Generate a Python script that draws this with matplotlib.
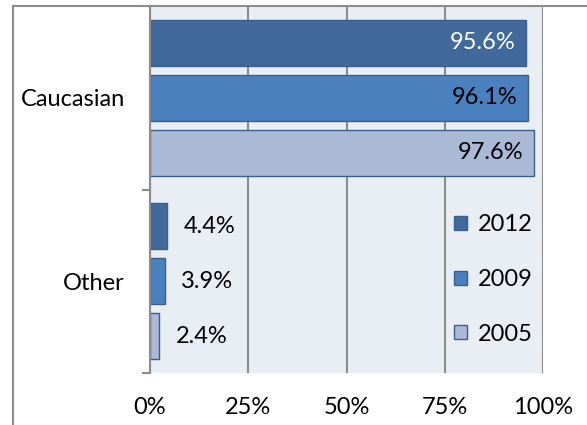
import numpy as np
import matplotlib.pyplot as plt
from matplotlib.lines import Line2D

plt.rcParams['font.family'] = ['Lato', 'DejaVu Sans']

categories = ['Caucasian', 'Other']
years = ['2012', '2009', '2005']
v2012 = [95.6, 4.4]
v2009 = [96.1, 3.9]
v2005 = [97.6, 2.4]
xticks = [0, 25, 50, 75, 100]
xticklabels = ['0%', '25%', '50%', '75%', '100%']

colors = ['#41699B', '#4B80BE', '#AAB9D6']
edge = '#3A5F8C'
fs = 17

fig = plt.figure(figsize=(5.87, 4.25), dpi=100)
ax = fig.add_axes([150/587, 52/425, 393/587, 367/425])
ax.set_facecolor('#E9EDF4')

y = np.arange(len(categories))
series = [v2012, v2009, v2005]
offsets = [-0.3, 0.0, 0.3]
for vals, off, c, lab in zip(series, offsets, colors, years):
    ax.barh(y + off, vals, height=0.25, color=c, edgecolor=edge,
            linewidth=1, label=lab, zorder=2)
    for yy, v in zip(y + off, vals):
        if v > 50:
            ax.annotate(f'{v:.1f}%', (v, yy), xytext=(-10, 0),
                        textcoords='offset pixels', ha='right', va='center',
                        fontsize=fs, color='white' if lab == '2012' else 'black')
        else:
            ax.annotate(f'{v:.1f}%', (v, yy), xytext=(16, 0),
                        textcoords='offset pixels', ha='left', va='center',
                        fontsize=fs, color='black')

ax.set_xlim(0, 100)
ax.set_ylim(1.5, -0.5)
ax.set_xticks(xticks)
ax.set_xticklabels(xticklabels, fontsize=fs)
ax.set_yticks(y)
ax.set_yticklabels(categories, fontsize=fs)
ax.set_yticks([-0.5, 0.5, 1.5], minor=True)
ax.tick_params(axis='x', length=0, pad=17)
ax.tick_params(axis='y', which='major', length=0, pad=18)
ax.tick_params(axis='y', which='minor', length=6, width=1.5, color='#8C8C8C')
ax.xaxis.grid(True, color='#8C8C8C', linewidth=1.5, zorder=0)
ax.set_axisbelow(True)
for s in ['top', 'right', 'bottom']:
    ax.spines[s].set_visible(False)
ax.spines['left'].set_color('#8C8C8C')
ax.spines['left'].set_linewidth(1.5)

ax.legend(loc='upper left', bbox_to_anchor=(0.774, 0.432), frameon=False,
          fontsize=fs, handlelength=0.55, handleheight=0.55,
          handletextpad=0.45, labelspacing=1.42, borderpad=0,
          borderaxespad=0)

# chart area border (partially visible)
fig.add_artist(Line2D([13/587, 13/587], [0, 419/425], transform=fig.transFigure,
                      color='#8C8C8C', linewidth=1.5))
fig.add_artist(Line2D([13/587, 1], [419/425, 419/425], transform=fig.transFigure,
                      color='#8C8C8C', linewidth=1.5))

fig.savefig('out.png', dpi=100)
